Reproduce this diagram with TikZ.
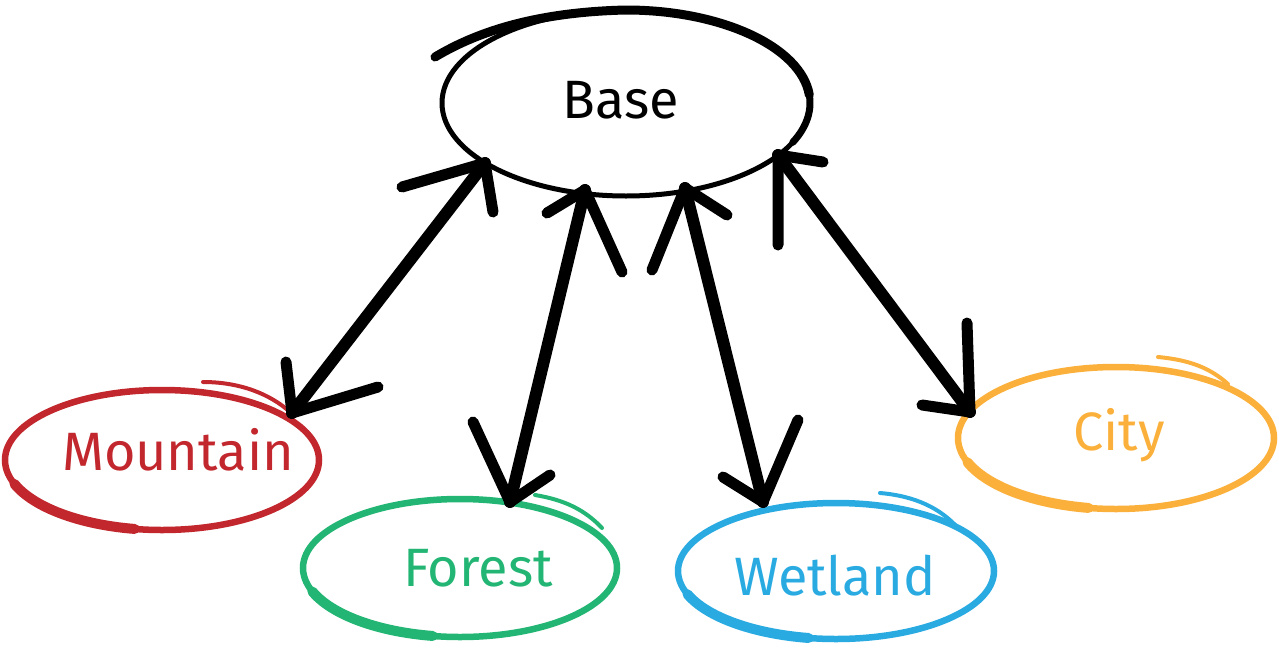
\documentclass[tikz,border=0pt]{standalone}
\usepackage{fontspec}
\setmainfont{Fira Sans}
\usetikzlibrary{shapes.geometric}
\definecolor{cred}{HTML}{C1272D}
\definecolor{cgreen}{HTML}{22B573}
\definecolor{cblue}{HTML}{29ABE2}
\definecolor{corange}{HTML}{FBB03B}
\begin{document}
\begin{tikzpicture}[x=1pt,y=-1pt,
  bubble/.style={ellipse, draw, line width=6.5pt, inner sep=0pt, outer sep=0pt},
  lbl/.style={font=\fontsize{54}{60}\selectfont, anchor=base, inner sep=0pt},
  link/.style={line width=12pt, line cap=round},
  barb/.style={line width=11pt, line cap=round, line join=round},
  thick part/.style={line width=9pt, line cap=round},
  swell/.style={line width=10pt, line cap=round},
  accent/.style={line width=4pt, line cap=round}
]
\useasboundingbox (0,0) rectangle (1279,648);

% Base
\node[bubble, line width=5pt, minimum width=368pt, minimum height=186pt] (base) at (626,103) {};
\draw[thick part] (435,57) .. controls (480,30) and (540,12) .. (626,10)
  arc[start angle=270, end angle=355, x radius=184, y radius=93];
\draw[line width=7pt, line cap=round] (base.center) ++(350:184 and 93)
  arc[start angle=350, end angle=385, x radius=184, y radius=93];
\node[lbl] (baset) at (621,118) {Base};

% Mountain
\node[bubble, draw=cred, minimum width=314pt, minimum height=140pt] (mount) at (162,460) {};
\draw[swell, cred] (mount.center) ++(160:157 and 70)
  arc[start angle=160, end angle=100, x radius=157, y radius=70];
\draw[accent, cred] (203,382) .. controls (240,382) and (270,394) .. (290,412);
\node[lbl, text=cred] (mountt) at (178,470) {Mountain};

% Forest
\node[bubble, draw=cgreen, minimum width=314pt, minimum height=138pt] (forest) at (460,568) {};
\draw[swell, cgreen] (forest.center) ++(160:157 and 69)
  arc[start angle=160, end angle=100, x radius=157, y radius=69];
\draw[accent, cgreen] (535,495) .. controls (565,500) and (585,510) .. (602,528);
\node[lbl, text=cgreen] (forestt) at (478,586) {Forest};

% Wetland
\node[bubble, draw=cblue, minimum width=316pt, minimum height=136pt] (wet) at (836,571) {};
\draw[swell, cblue] (wet.center) ++(160:158 and 68)
  arc[start angle=160, end angle=100, x radius=158, y radius=68];
\draw[accent, cblue] (880,493) .. controls (915,496) and (940,508) .. (958,528);
\node[lbl, text=cblue] (wett) at (835,595) {Wetland};

% City
\node[bubble, draw=corange, minimum width=316pt, minimum height=142pt] (city) at (1116,438) {};
\draw[swell, corange] (city.center) ++(160:158 and 71)
  arc[start angle=160, end angle=100, x radius=158, y radius=71];
\draw[accent, corange] (1158,357) .. controls (1190,360) and (1210,368) .. (1228,384);
\node[lbl, text=corange] (cityt) at (1119,450) {City};

% arrow end points
\coordinate (mA) at (485,163);
\coordinate (mB) at (292,413);
\coordinate (fA) at (585,190);
\coordinate (fB) at (510,502);
\coordinate (wA) at (685,188);
\coordinate (wB) at (763,502);
\coordinate (cA) at (778,155);
\coordinate (cB) at (970,412);

% shafts
\draw[link] (mA) -- (mB);
\draw[link] (fA) -- (fB);
\draw[link] (wA) -- (wB);
\draw[link] (cA) -- (cB);

% heads
\draw[barb] ([shift={(-83,24)}]mA) -- (mA) -- ([shift={(8,49)}]mA);
\draw[barb] ([shift={(-6,-51)}]mB) -- (mB) -- ([shift={(86,-26)}]mB);
\draw[barb] ([shift={(-38,23)}]fA) -- (fA) -- ([shift={(37,82)}]fA);
\draw[barb] ([shift={(-37,-80)}]fB) -- (fB) -- ([shift={(40,-27)}]fB);
\draw[barb] ([shift={(42,27)}]wA) -- (wA) -- ([shift={(-33,82)}]wA);
\draw[barb] ([shift={(-40,-25)}]wB) -- (wB) -- ([shift={(35,-82)}]wB);
\draw[barb] ([shift={(45,7)}]cA) -- (cA) -- ([shift={(0,90)}]cA);
\draw[barb] ([shift={(-3,-89)}]cB) -- (cB) -- ([shift={(-48,-7)}]cB);
\end{tikzpicture}
\end{document}
